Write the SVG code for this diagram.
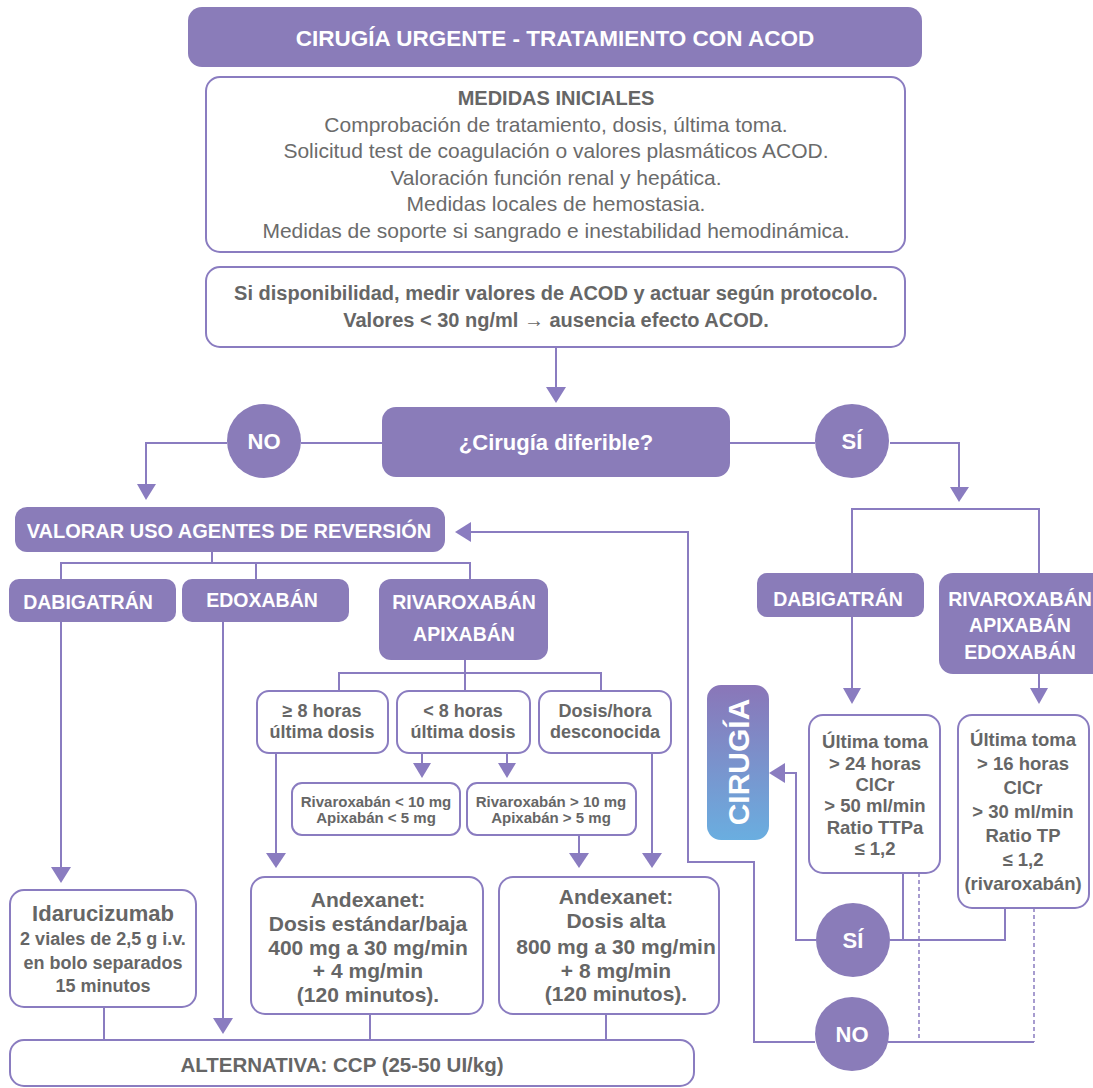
<svg xmlns="http://www.w3.org/2000/svg" width="1093" height="1088" viewBox="0 0 1093 1088">
<defs>
<style>
.fill{fill:#8a7cb9;}
.box{fill:#fff;stroke:#8a7cc0;stroke-width:2;}
.ln{fill:none;stroke:#8a7cc0;stroke-width:2;}
.dash{fill:none;stroke:#8a7cc0;stroke-width:1.5;stroke-dasharray:4 3;}
.w{fill:#fff;font-family:"Liberation Sans",Arial,sans-serif;font-weight:bold;text-anchor:middle;}
.g{fill:#666666;font-family:"Liberation Sans",Arial,sans-serif;font-weight:bold;text-anchor:middle;}
.gr{fill:#6b6b6b;font-family:"Liberation Sans",Arial,sans-serif;text-anchor:middle;}
.ah{fill:#8a7cc0;}
</style>
<linearGradient id="cg" x1="0" y1="0" x2="0" y2="1">
<stop offset="0" stop-color="#8a76b8"/>
<stop offset="1" stop-color="#6aaee0"/>
</linearGradient>
</defs>
<rect width="1093" height="1088" fill="#fff"/>

<g id="connectors">
<path class="ln" d="M556,347 V388"/>
<polygon class="ah" points="546,387 566,387 556,403"/>
<path class="ln" d="M382,443 H301 M227,443 H146 V486"/>
<polygon class="ah" points="137,484 156,484 146,500"/>
<path class="ln" d="M730,443 H815 M890,443 H959 V488"/>
<polygon class="ah" points="950,487 969,487 959,502"/>
<path class="ln" d="M852,573 V509 H1039 V573"/>
<path class="ln" d="M212,552 V563 M61,579 V563 H470 V579 M256,563 V579"/>
<path class="ln" d="M465,660 V691 M339,691 V673 H601 V691"/>
<path class="ln" d="M61,622 V868"/>
<polygon class="ah" points="51,867 71,867 61,883"/>
<path class="ln" d="M223,622 V1019"/>
<polygon class="ah" points="213,1018 233,1018 223,1034"/>
<path class="ln" d="M422,753 V764 M507,753 V764"/>
<polygon class="ah" points="413,763 431,763 422,778"/>
<polygon class="ah" points="498,763 516,763 507,778"/>
<path class="ln" d="M276,753 V854 M579,835 V854 M652,753 V854"/>
<polygon class="ah" points="266,853 286,853 276,868"/>
<polygon class="ah" points="569,853 589,853 579,868"/>
<polygon class="ah" points="642,853 662,853 652,868"/>
<path class="ln" d="M104,1007 V1040 M370,1014 V1040 M606,1014 V1040"/>
<path class="ln" d="M470,532 H688 V862 H754 V1042 H815"/>
<polygon class="ah" points="455,532 471,522 471,542"/>
<path class="ln" d="M852,617 V690 M1039,674 V690"/>
<polygon class="ah" points="843,688 861,688 852,704"/>
<polygon class="ah" points="1030,688 1048,688 1039,704"/>
<path class="ln" d="M816,940 H796 V773 H784"/>
<polygon class="ah" points="769,773 785,763 785,783"/>
<path class="ln" d="M890,940 H1005 V908 M903,940 V873"/>
<path class="ln" d="M888,1042 H1034"/>
<path class="dash" d="M919,873 V1042 M1034,908 V1042"/>
</g>

<g id="title">
<rect class="fill" x="188" y="7" width="734" height="60" rx="14"/>
<text class="w" x="555" y="46" font-size="22.5">CIRUGÍA URGENTE - TRATAMIENTO CON ACOD</text>
</g>

<g id="medidas">
<rect class="box" x="206" y="77" width="699" height="175" rx="14"/>
<text class="g" x="556" y="105" font-size="20">MEDIDAS INICIALES</text>
<text class="gr" x="556" y="132" font-size="21">Comprobación de tratamiento, dosis, última toma.</text>
<text class="gr" x="556" y="158" font-size="21">Solicitud test de coagulación o valores plasmáticos ACOD.</text>
<text class="gr" x="556" y="185" font-size="21">Valoración función renal y hepática.</text>
<text class="gr" x="556" y="211" font-size="21">Medidas locales de hemostasia.</text>
<text class="gr" x="556" y="238" font-size="21">Medidas de soporte si sangrado e inestabilidad hemodinámica.</text>
</g>

<g id="protocolo">
<rect class="box" x="206" y="267" width="699" height="80" rx="14"/>
<text class="g" x="556" y="300" font-size="20">Si disponibilidad, medir valores de ACOD y actuar según protocolo.</text>
<text class="g" x="556" y="327" font-size="20">Valores &lt; 30 ng/ml → ausencia efecto ACOD.</text>
</g>

<g id="diferible">
<rect class="fill" x="382" y="407" width="348" height="70" rx="14"/>
<text class="w" x="556" y="450" font-size="22">¿Cirugía diferible?</text>
</g>

<g id="no-top">
<circle class="fill" cx="264" cy="441" r="37"/>
<text class="w" x="264" y="449" font-size="22">NO</text>
</g>

<g id="si-top">
<circle class="fill" cx="852" cy="441" r="37"/>
<text class="w" x="852" y="449" font-size="22">SÍ</text>
</g>

<g id="valorar">
<rect class="fill" x="15" y="507" width="430" height="45" rx="12"/>
<text class="w" x="229" y="538" font-size="20">VALORAR USO AGENTES DE REVERSIÓN</text>
</g>

<g id="dabigatran-l">
<rect class="fill" x="9" y="579" width="167" height="43" rx="10"/>
<text class="w" x="88" y="609" font-size="19.5">DABIGATRÁN</text>
</g>

<g id="edoxaban-l">
<rect class="fill" x="182" y="579" width="167" height="43" rx="10"/>
<text class="w" x="262" y="607" font-size="19.5">EDOXABÁN</text>
</g>

<g id="rivaroxaban-l">
<rect class="fill" x="379" y="579" width="169" height="81" rx="12"/>
<text class="w" x="464" y="609" font-size="19.5">RIVAROXABÁN</text>
<text class="w" x="464" y="641" font-size="19.5">APIXABÁN</text>
</g>

<g id="ge8">
<rect class="box" x="257" y="691" width="131" height="62" rx="12"/>
<text class="g" x="322" y="717" font-size="18">≥ 8 horas</text>
<text class="g" x="322" y="738" font-size="18">última dosis</text>
</g>

<g id="lt8">
<rect class="box" x="397" y="691" width="133" height="62" rx="12"/>
<text class="g" x="463" y="717" font-size="18">&lt; 8 horas</text>
<text class="g" x="463" y="738" font-size="18">última dosis</text>
</g>

<g id="desconocida">
<rect class="box" x="539" y="691" width="132" height="62" rx="12"/>
<text class="g" x="605" y="717" font-size="18">Dosis/hora</text>
<text class="g" x="605" y="738" font-size="18">desconocida</text>
</g>

<g id="riva-lt10">
<rect class="box" x="292" y="783" width="168" height="52" rx="10"/>
<text class="g" x="376" y="807" font-size="15">Rivaroxabán &lt; 10 mg</text>
<text class="g" x="376" y="823" font-size="15">Apixabán &lt; 5 mg</text>
</g>

<g id="riva-gt10">
<rect class="box" x="467" y="783" width="169" height="52" rx="10"/>
<text class="g" x="551" y="807" font-size="15">Rivaroxabán &gt; 10 mg</text>
<text class="g" x="551" y="823" font-size="15">Apixabán &gt; 5 mg</text>
</g>

<g id="idarucizumab">
<rect class="box" x="10" y="890" width="186" height="117" rx="14"/>
<text class="g" x="103" y="921" font-size="22">Idarucizumab</text>
<text class="g" x="103" y="945" font-size="18">2 viales de 2,5 g i.v.</text>
<text class="g" x="103" y="969" font-size="18">en bolo separados</text>
<text class="g" x="103" y="992" font-size="18">15 minutos</text>
</g>

<g id="andexanet-baja">
<rect class="box" x="251" y="877" width="232" height="137" rx="14"/>
<text class="g" x="368" y="907" font-size="21">Andexanet:</text>
<text class="g" x="368" y="931" font-size="21">Dosis estándar/baja</text>
<text class="g" x="368" y="955" font-size="21">400 mg a 30 mg/min</text>
<text class="g" x="368" y="978" font-size="21">+ 4 mg/min</text>
<text class="g" x="368" y="1002" font-size="21">(120 minutos).</text>
</g>

<g id="andexanet-alta">
<rect class="box" x="499" y="877" width="220" height="137" rx="14"/>
<text class="g" x="616" y="904" font-size="21">Andexanet:</text>
<text class="g" x="616" y="928" font-size="21">Dosis alta</text>
<text class="g" x="616" y="954" font-size="21">800 mg a 30 mg/min</text>
<text class="g" x="616" y="978" font-size="21">+ 8 mg/min</text>
<text class="g" x="616" y="1001" font-size="21">(120 minutos).</text>
</g>

<g id="alternativa">
<rect class="box" x="10" y="1040" width="684" height="46" rx="14"/>
<text class="g" x="342" y="1072" font-size="20.5">ALTERNATIVA: CCP (25-50 UI/kg)</text>
</g>

<g id="dabigatran-r">
<rect class="fill" x="757" y="573" width="167" height="44" rx="10"/>
<text class="w" x="838" y="606" font-size="19.5">DABIGATRÁN</text>
</g>

<g id="rivaroxaban-r">
<rect class="fill" x="939" y="573" width="170" height="101" rx="14"/>
<text class="w" x="1020" y="606" font-size="19.5">RIVAROXABÁN</text>
<text class="w" x="1020" y="632" font-size="19.5">APIXABÁN</text>
<text class="w" x="1020" y="659" font-size="19.5">EDOXABÁN</text>
</g>

<g id="cirugia">
<rect x="707" y="685" width="62" height="155" rx="14" fill="url(#cg)"/>
<text class="w" x="0" y="0" font-size="30" transform="translate(749,762) rotate(-90)">CIRUGÍA</text>
</g>

<g id="ultima-24">
<rect class="box" x="809" y="715" width="131" height="158" rx="14"/>
<text class="g" x="875" y="748" font-size="18.5">Última toma</text>
<text class="g" x="875" y="770" font-size="18.5">&gt; 24 horas</text>
<text class="g" x="875" y="791" font-size="18.5">ClCr</text>
<text class="g" x="875" y="812" font-size="18.5">&gt; 50 ml/min</text>
<text class="g" x="875" y="834" font-size="18.5">Ratio TTPa</text>
<text class="g" x="875" y="855" font-size="18.5">≤ 1,2</text>
</g>

<g id="ultima-16">
<rect class="box" x="958" y="715" width="131" height="193" rx="14"/>
<text class="g" x="1023" y="746" font-size="18.5">Última toma</text>
<text class="g" x="1023" y="770" font-size="18.5">&gt; 16 horas</text>
<text class="g" x="1023" y="794" font-size="18.5">ClCr</text>
<text class="g" x="1023" y="818" font-size="18.5">&gt; 30 ml/min</text>
<text class="g" x="1023" y="842" font-size="18.5">Ratio TP</text>
<text class="g" x="1023" y="866" font-size="18.5">≤ 1,2</text>
<text class="g" x="1023" y="890" font-size="18.5">(rivaroxabán)</text>
</g>

<g id="si-bottom">
<circle class="fill" cx="853" cy="940" r="37"/>
<text class="w" x="853" y="948" font-size="22">SÍ</text>
</g>

<g id="no-bottom">
<circle class="fill" cx="852" cy="1034" r="37"/>
<text class="w" x="852" y="1042" font-size="22">NO</text>
</g>
</svg>
